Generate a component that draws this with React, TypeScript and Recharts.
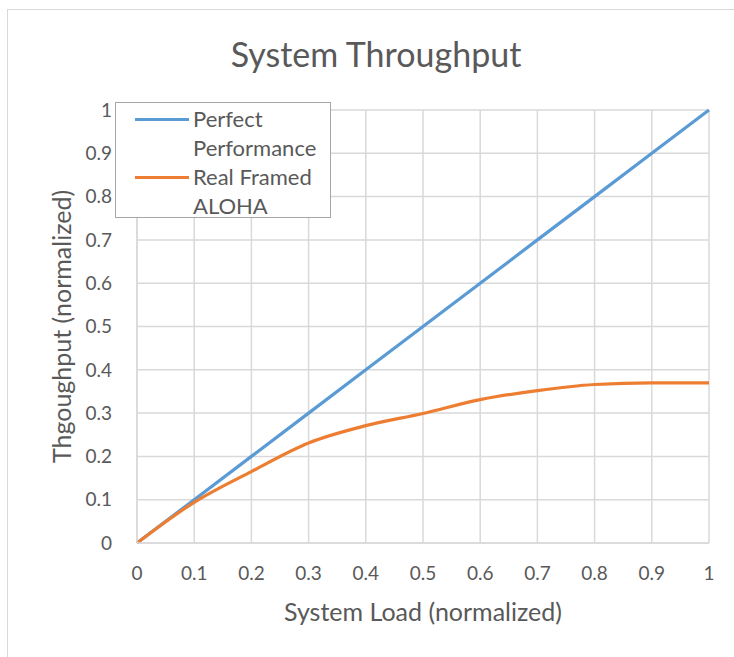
import React from 'react';
import { LineChart, Line, XAxis, YAxis, CartesianGrid, Legend, Label } from 'recharts';

const loads = [0, 0.1, 0.2, 0.3, 0.4, 0.5, 0.6, 0.7, 0.8, 0.9, 1];
const perfect = [0, 0.1, 0.2, 0.3, 0.4, 0.5, 0.6, 0.7, 0.8, 0.9, 1];
const aloha = [0, 0.094, 0.165, 0.231, 0.271, 0.299, 0.331, 0.352, 0.366, 0.37, 0.37];
const xTicks = [0, 0.1, 0.2, 0.3, 0.4, 0.5, 0.6, 0.7, 0.8, 0.9, 1];
const yTicks = [0, 0.1, 0.2, 0.3, 0.4, 0.5, 0.6, 0.7, 0.8, 0.9, 1];
const seriesNames = ['Perfect Performance', 'Real Framed ALOHA'];
const title = 'System Throughput';
const xTitle = 'System Load (normalized)';
const yTitle = 'Thgoughput (normalized)';

const data = loads.map((x, i) => ({ x, perfect: perfect[i], aloha: aloha[i] }));

const FONT = 'Lato, "Open Sans", sans-serif';
const TEXT = '#595959';
const BLUE = '#5b9bd5';
const ORANGE = '#ed7d31';

const fmt = (v: number) => String(v);

const LegendBox = () => (
  <div
    style={{
      width: 216,
      height: 116,
      border: '1px solid #a6a6a6',
      background: '#fff',
      boxSizing: 'border-box',
      fontFamily: FONT,
      fontSize: 22,
      color: TEXT,
      lineHeight: '29px',
      padding: '1px 0 0 0',
      textAlign: 'left',
    }}
  >
    {[
      { name: ['Perfect', 'Performance'], color: BLUE },
      { name: ['Real Framed', 'ALOHA'], color: ORANGE },
    ].map((s) => (
      <div key={s.name[0]} style={{ display: 'flex' }}>
        <div style={{ width: 77, position: 'relative', flex: '0 0 77px' }}>
          <div style={{ position: 'absolute', left: 19, top: 14, width: 54, height: 3, background: s.color }} />
        </div>
        <div style={{ whiteSpace: 'nowrap' }}>
          <div>{s.name[0]}</div>
          <div>{s.name[1]}</div>
        </div>
      </div>
    ))}
  </div>
);

export default function App() {
  return (
    <div style={{ position: 'absolute', left: 0, top: 0, width: 734, height: 657, background: '#fff', overflow: 'hidden' }}>
      <div style={{ position: 'absolute', left: 7, top: 9, width: 760, height: 700, border: '1px solid #d9d9d9' }} />
      <div
        style={{
          position: 'absolute',
          left: 0,
          width: 752,
          top: 33,
          textAlign: 'center',
          fontFamily: FONT,
          fontSize: 34,
          color: TEXT,
        }}
      >
        {title}
      </div>
      <div style={{ position: 'absolute', left: 0, top: 0 }}>
        <LineChart width={734} height={657} data={data} margin={{ top: 110, right: 25, bottom: 84, left: 40 }}>
          <CartesianGrid stroke="#d9d9d9" strokeWidth={1.5} horizontal vertical />
          <XAxis
            dataKey="x"
            type="number"
            domain={[0, 1]}
            ticks={xTicks}
            tickFormatter={fmt}
            height={30}
            axisLine={{ stroke: '#d9d9d9', strokeWidth: 1.5 }}
            tickLine={false}
            tickSize={0}
            tickMargin={24}
            tick={{ fill: TEXT, fontSize: 19, fontFamily: FONT }}
          >
            <Label
              content={({ viewBox }: any) => (
                <text
                  x={viewBox.x + viewBox.width / 2}
                  y={viewBox.y + 78}
                  textAnchor="middle"
                  fill={TEXT}
                  fontSize={25}
                  fontFamily={FONT}
                >
                  {xTitle}
                </text>
              )}
            />
          </XAxis>
          <YAxis
            type="number"
            domain={[0, 1]}
            ticks={yTicks}
            tickFormatter={fmt}
            width={97}
            axisLine={{ stroke: '#d9d9d9', strokeWidth: 1.5 }}
            tickLine={false}
            tickSize={0}
            tickMargin={25}
            tick={{ fill: TEXT, fontSize: 19, fontFamily: FONT }}
          >
            <Label
              content={({ viewBox }: any) => {
                const cx = viewBox.x + 21;
                const cy = viewBox.y + viewBox.height / 2;
                return (
                  <text
                    x={cx}
                    y={cy}
                    transform={`rotate(-90, ${cx}, ${cy})`}
                    textAnchor="middle"
                    dominantBaseline="central"
                    fill={TEXT}
                    fontSize={25}
                    fontFamily={FONT}
                  >
                    {yTitle}
                  </text>
                );
              }}
            />
          </YAxis>
          <Legend
            layout="vertical"
            align="center"
            verticalAlign="middle"
            content={() => <LegendBox />}
            wrapperStyle={{ position: 'absolute', left: 115, top: 102, width: 216, height: 116 }}
          />
          <Line
            name={seriesNames[0]}
            dataKey="perfect"
            type="linear"
            stroke={BLUE}
            strokeWidth={3.2}
            dot={false}
            isAnimationActive={false}
          />
          <Line
            name={seriesNames[1]}
            dataKey="aloha"
            type="monotone"
            stroke={ORANGE}
            strokeWidth={3.2}
            dot={false}
            isAnimationActive={false}
          />
        </LineChart>
      </div>
    </div>
  );
}
